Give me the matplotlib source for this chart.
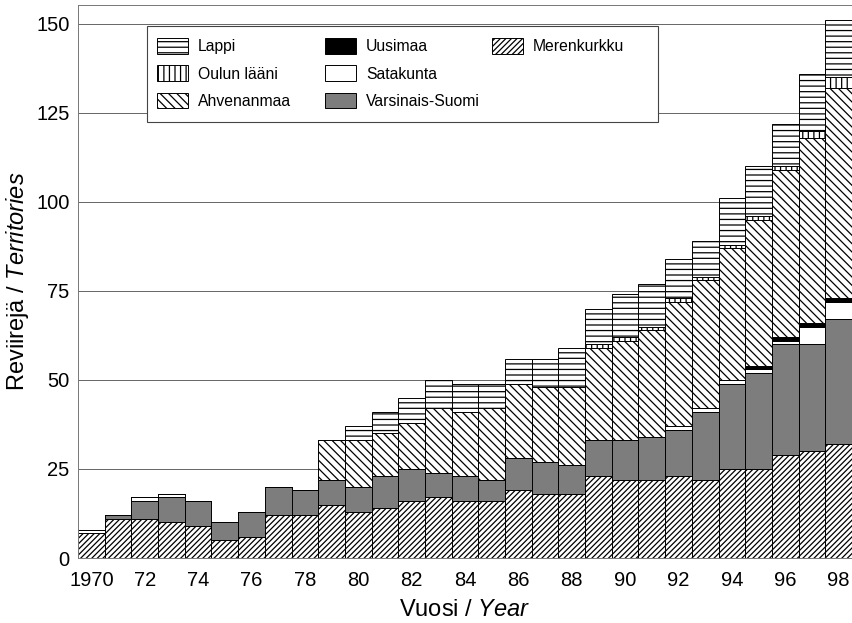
import numpy as np
import matplotlib
matplotlib.use("Agg")
import matplotlib.pyplot as plt
from matplotlib.patches import Patch, Rectangle
from matplotlib.legend import Legend

plt.rcParams['font.family'] = ['Liberation Sans', 'DejaVu Sans']
plt.rcParams['mathtext.fontset'] = 'custom'
plt.rcParams['mathtext.rm'] = 'Liberation Sans'
plt.rcParams['mathtext.it'] = 'Liberation Sans:italic'
plt.rcParams['hatch.linewidth'] = 0.9

years = list(range(1970, 1999))
merenkurkku = [7, 11, 11, 10, 9, 5, 6, 12, 12, 15, 13, 14, 16, 17, 16, 16, 19, 18, 18,
               23, 22, 22, 23, 22, 25, 25, 29, 30, 32]
varsinais_suomi = [0, 1, 5, 7, 7, 5, 7, 8, 7, 7, 7, 9, 9, 7, 7, 6, 9, 9, 8,
                   10, 11, 12, 13, 19, 24, 27, 31, 30, 35]
satakunta = [1, 0, 1, 1, 0, 0, 0, 0, 0, 0, 0, 0, 0, 0, 0, 0, 0, 0, 0,
             0, 0, 0, 1, 1, 1, 1, 1, 5, 5]
uusimaa = [0, 0, 0, 0, 0, 0, 0, 0, 0, 0, 0, 0, 0, 0, 0, 0, 0, 0, 0,
           0, 0, 0, 0, 0, 0, 1, 1, 1, 1]
ahvenanmaa = [0, 0, 0, 0, 0, 0, 0, 0, 0, 11, 13, 12, 13, 18, 18, 20, 21, 21, 22,
              26, 28, 30, 35, 36, 37, 41, 47, 52, 59]
oulun_laani = [0, 0, 0, 0, 0, 0, 0, 0, 0, 0, 0, 0, 0, 0, 0, 0, 0, 0, 0,
               1, 1, 1, 1, 1, 1, 1, 1, 2, 3]
lappi = [0, 0, 0, 0, 0, 0, 0, 0, 0, 0, 4, 6, 7, 8, 8, 7, 7, 8, 11,
         10, 12, 12, 11, 10, 13, 14, 12, 16, 16]

tick_years = list(range(1970, 1999, 2))
tick_labels = ['1970'] + ['%02d' % (y % 100) for y in tick_years[1:]]
yticks = [0, 25, 50, 75, 100, 125, 150]

series = [
    ('Merenkurkku', merenkurkku, dict(facecolor='white', hatch='//////')),
    ('Varsinais-Suomi', varsinais_suomi, dict(facecolor='#7d7d7d', hatch=None)),
    ('Satakunta', satakunta, dict(facecolor='white', hatch=None)),
    ('Uusimaa', uusimaa, dict(facecolor='black', hatch=None)),
    ('Ahvenanmaa', ahvenanmaa, dict(facecolor='white', hatch='\\\\\\\\')),
    ('Oulun lääni', oulun_laani, dict(facecolor='white', hatch='|||')),
    ('Lappi', lappi, dict(facecolor='white', hatch='---')),
]

W, H = 852, 623
fig = plt.figure(figsize=(W / 100, H / 100), dpi=100)
ax = fig.add_axes([78 / W, (H - 558) / H, (852 - 78) / W, (558 - 5) / H])

bottom = np.zeros(len(years))
styles = {}
for name, vals, st in series:
    v = np.array(vals, dtype=float)
    ax.bar(years, v, bottom=bottom, width=1.0, align='center',
           edgecolor='black', linewidth=0.7, zorder=2, **st)
    bottom += v
    styles[name] = st

ax.set_xlim(1969.5, 1998.5)
ax.set_ylim(0, 155.3)
ax.set_yticks(yticks)
ax.set_xticks(tick_years)
ax.set_xticklabels(tick_labels)
ax.tick_params(axis='both', length=0, labelsize=14.5)
ax.tick_params(axis='x', pad=9)
ax.tick_params(axis='y', pad=6)
ax.yaxis.grid(True, color='#666666', linewidth=0.7, zorder=0)
ax.set_axisbelow(True)
for s in ['left', 'top', 'bottom']:
    ax.spines[s].set_color('#777777')
    ax.spines[s].set_linewidth(0.7)
ax.spines['right'].set_visible(False)

ax.set_xlabel('Vuosi / $\\mathit{Year}$', fontsize=17, labelpad=7)
ax.set_ylabel('Reviirejä / $\\mathit{Territories}$', fontsize=17, labelpad=4)

# legend frame
frame = Rectangle((147 / W, 1 - 122 / H), (658 - 147) / W, (122 - 26) / H,
                  transform=fig.transFigure, facecolor='white',
                  edgecolor='#444444', linewidth=0.8, zorder=4)
ax.add_patch(frame)

columns = [
    (157, ['Lappi', 'Oulun lääni', 'Ahvenanmaa']),
    (325, ['Uusimaa', 'Satakunta', 'Varsinais-Suomi']),
    (492, ['Merenkurkku']),
]
for xpx, names in columns:
    handles = [Patch(edgecolor='black', linewidth=0.7, label=n, **styles[n]) for n in names]
    leg = Legend(ax, handles, names, loc='upper left',
                 bbox_to_anchor=(xpx / W, 1 - 38 / H),
                 bbox_transform=fig.transFigure, frameon=False,
                 fontsize=11.3, borderpad=0, borderaxespad=0,
                 handlelength=1.95, handleheight=1.15, handletextpad=0.65,
                 labelspacing=0.72)
    leg.set_zorder(5)
    ax.add_artist(leg)

fig.savefig('out.png', dpi=100)
